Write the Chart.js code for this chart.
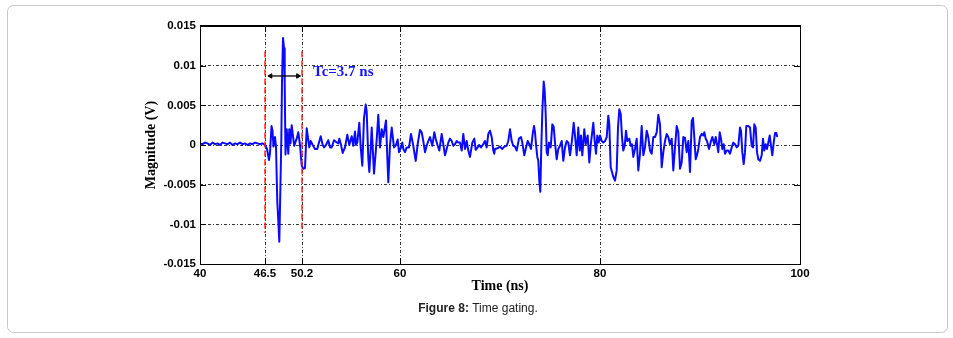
<!DOCTYPE html>
<html>
<head>
<meta charset="utf-8">
<script src="https://cdn.jsdelivr.net/npm/chart.js@4/dist/chart.umd.min.js"></script>
<style>
  html, body { margin: 0; padding: 0; background: #fff; }
  canvas { display: block; }
</style>
</head>
<body>
<canvas id="c" width="953" height="338"></canvas>
<script>
// Received signal: time (ns) and magnitude (V)
const timeNs = [
  40.0, 40.25, 40.5, 40.75, 41.0, 41.25, 41.5, 41.75, 42.0, 42.25, 42.5, 42.75, 43.0, 43.25, 43.5, 43.75,
  44.0, 44.25, 44.5, 44.75, 45.0, 45.25, 45.5, 45.75, 46.0, 46.25, 46.5,
  46.7, 46.9, 47.0, 47.15, 47.25, 47.35, 47.5, 47.6, 47.73, 47.83, 47.93, 48.03, 48.13, 48.2, 48.3, 48.4,
  48.47, 48.55, 48.67, 48.83, 48.93, 49.05, 49.17, 49.33, 49.43, 49.55, 49.67, 49.83, 50.0, 50.17, 50.33,
  50.5, 50.67, 50.93, 51.07, 51.27, 51.5, 51.73, 51.83, 52.07, 52.27, 52.4, 52.6, 52.83, 53.0, 53.17, 53.4,
  53.6, 53.83, 53.93, 54.07, 54.27, 54.5, 54.73, 54.93, 55.17, 55.33, 55.5, 55.6, 55.73, 55.93, 56.07, 56.23,
  56.4, 56.57, 56.67, 56.83, 56.93, 57.05, 57.17, 57.4, 57.67, 57.83, 58.0, 58.17, 58.33, 58.6, 58.73, 58.83,
  59.0, 59.17, 59.4, 59.6, 59.77, 59.9, 60.1, 60.23, 60.33, 60.5, 60.67, 60.9, 61.1, 61.33, 61.57, 61.77,
  62.0, 62.17, 62.33, 62.5, 62.67, 62.83, 63.0, 63.23, 63.43, 63.57, 63.77, 63.93, 64.17, 64.33, 64.5, 64.67,
  64.83, 65.0, 65.17, 65.33, 65.5, 65.67, 65.83, 66.0, 66.17, 66.33, 66.5, 66.67, 66.83, 67.0, 67.23, 67.43,
  67.57, 67.77, 67.9, 68.1, 68.33, 68.5, 68.67, 68.83, 69.0, 69.17, 69.33, 69.43, 69.5, 69.77, 70.0, 70.23,
  70.43, 70.67, 70.83, 71.0, 71.17, 71.33, 71.5, 71.67, 71.9, 72.1, 72.23, 72.43, 72.57, 72.77, 72.93, 73.1,
  73.27, 73.4, 73.5, 73.6, 73.73, 73.83, 73.93, 74.03, 74.13, 74.23, 74.37, 74.47, 74.57, 74.67, 74.77, 74.9,
  75.07, 75.23, 75.37, 75.5, 75.67, 75.83, 76.0, 76.17, 76.33, 76.5, 76.67, 76.83, 77.0, 77.17, 77.37, 77.5,
  77.67, 77.83, 77.97, 78.1, 78.23, 78.43, 78.57, 78.77, 78.93, 79.1, 79.33, 79.47, 79.6, 79.73, 79.87, 80.0,
  80.17, 80.33, 80.5, 80.67, 80.83, 80.93, 81.07, 81.2, 81.33, 81.5, 81.67, 81.8, 81.93, 82.07, 82.2, 82.33,
  82.47, 82.6, 82.73, 82.93, 83.07, 83.2, 83.33, 83.5, 83.67, 83.83, 84.0, 84.17, 84.33, 84.5, 84.67, 84.83,
  85.0, 85.17, 85.33, 85.5, 85.67, 85.83, 86.0, 86.17, 86.33, 86.5, 86.67, 86.83, 87.0, 87.17, 87.33, 87.5,
  87.67, 87.83, 88.0, 88.17, 88.33, 88.5, 88.67, 88.83, 89.0, 89.17, 89.3, 89.43, 89.57, 89.7, 89.83, 90.0,
  90.17, 90.33, 90.43, 90.57, 90.7, 90.9, 91.1, 91.23, 91.43, 91.57, 91.7, 91.83, 91.97, 92.1, 92.23, 92.37,
  92.5, 92.67, 92.83, 93.0, 93.17, 93.33, 93.5, 93.67, 93.83, 94.0, 94.1, 94.23, 94.37, 94.5, 94.63, 94.83,
  95.0, 95.17, 95.3, 95.43, 95.57, 95.7, 95.83, 96.0, 96.17, 96.3, 96.43, 96.57, 96.7, 96.83, 96.97, 97.1,
  97.23, 97.37, 97.5, 97.63, 97.73
];
const magnitudeV = [
  0.0002, 0.0001, 0.0003, 0.0002, 0.0000, 0.0003, 0.0001, 0.0002, 0.0000, 0.0003, 0.0002, 0.0001, 0.0003, 0.0000, 0.0002, 0.0001,
  0.0003, 0.0001, 0.0002, 0.0000, 0.0002, 0.0001, 0.0003, 0.0002, 0.0001, 0.0002, 0.0000,
  -0.0005, -0.0019, -0.0010, 0.0024, 0.0018, -0.0002, 0.0010, -0.0002, -0.0072, -0.0095, -0.0122, -0.0060, 0.0005, 0.0080, 0.0135, 0.0122,
  0.0078, -0.0012, 0.0020, -0.0011, 0.0020, 0.0002, 0.0025, 0.0008, -0.0001, 0.0004, 0.0008, 0.0016, 0.0000, -0.0026, -0.0030,
  -0.0029, 0.0021, -0.0003, 0.0005, 0.0000, -0.0005, -0.0005, 0.0000, 0.0011, 0.0000, -0.0003, 0.0000, 0.0006, -0.0003, -0.0003, 0.0006,
  0.0004, 0.0002, 0.0008, 0.0002, -0.0010, -0.0003, 0.0013, 0.0000, 0.0011, -0.0001, 0.0017, 0.0000, 0.0003, 0.0028, -0.0003, -0.0026,
  0.0034, 0.0051, 0.0042, -0.0016, -0.0034, -0.0010, 0.0022, -0.0036, 0.0007, 0.0038, -0.0003, 0.0020, 0.0010, 0.0031, -0.0015, -0.0047,
  0.0000, 0.0022, -0.0003, 0.0000, 0.0007, -0.0009, -0.0003, 0.0003, -0.0005, -0.0009, -0.0003, -0.0003, 0.0014, -0.0001, -0.0020, 0.0001,
  0.0019, 0.0016, 0.0005, -0.0009, -0.0001, 0.0005, 0.0010, -0.0001, 0.0016, 0.0008, -0.0001, -0.0007, 0.0014, 0.0001, -0.0013, -0.0005,
  0.0003, 0.0008, 0.0005, -0.0001, 0.0001, 0.0005, 0.0003, 0.0003, -0.0007, 0.0014, -0.0005, 0.0005, -0.0007, -0.0015, 0.0003, 0.0008,
  -0.0006, -0.0003, 0.0000, -0.0003, 0.0001, 0.0005, -0.0003, 0.0014, 0.0018, 0.0010, -0.0007, -0.0011, -0.0005, -0.0004, -0.0002, -0.0005,
  -0.0002, -0.0001, 0.0005, 0.0020, 0.0005, -0.0001, -0.0002, -0.0007, 0.0008, 0.0010, 0.0003, -0.0013, -0.0005, 0.0005, 0.0001, -0.0005,
  0.0014, 0.0024, 0.0016, 0.0001, -0.0015, -0.0020, -0.0045, -0.0059, -0.0003, 0.0041, 0.0080, 0.0068, 0.0039, -0.0009, -0.0013, 0.0003,
  -0.0003, 0.0026, 0.0023, 0.0003, -0.0018, -0.0005, -0.0001, 0.0005, -0.0020, -0.0003, 0.0005, 0.0003, -0.0013, 0.0003, 0.0028, 0.0012,
  -0.0013, 0.0022, -0.0007, 0.0012, -0.0013, 0.0020, 0.0001, 0.0012, -0.0022, 0.0003, 0.0028, 0.0005, -0.0011, 0.0012, 0.0003, 0.0012,
  0.0005, 0.0003, 0.0005, 0.0010, 0.0037, 0.0026, -0.0028, -0.0034, -0.0040, -0.0045, -0.0032, 0.0022, 0.0045, 0.0039, 0.0010, -0.0007,
  -0.0001, 0.0018, 0.0005, 0.0008, -0.0001, 0.0001, -0.0015, -0.0005, 0.0008, -0.0032, -0.0011, 0.0024, -0.0013, -0.0003, 0.0018, 0.0010,
  -0.0007, -0.0011, 0.0010, 0.0010, 0.0016, 0.0038, 0.0026, -0.0028, -0.0009, 0.0005, 0.0014, 0.0010, 0.0001, 0.0008, -0.0032, -0.0003,
  0.0024, 0.0016, -0.0030, -0.0022, 0.0010, 0.0009, -0.0009, 0.0005, -0.0034, 0.0030, 0.0034, 0.0010, -0.0018, -0.0013, -0.0005, 0.0010,
  0.0014, 0.0012, 0.0016, 0.0008, 0.0005, -0.0005, 0.0005, 0.0010, 0.0001, 0.0010, 0.0001, -0.0009, 0.0016, 0.0008, -0.0005, 0.0001,
  -0.0011, -0.0007, -0.0007, -0.0011, -0.0003, 0.0003, 0.0001, -0.0003, -0.0001, 0.0022, 0.0018, -0.0009, -0.0024, -0.0009, 0.0024, 0.0024,
  0.0022, -0.0001, -0.0003, 0.0026, 0.0022, -0.0009, -0.0018, -0.0020, -0.0013, 0.0008, -0.0007, 0.0001, -0.0005, 0.0003, 0.0012, -0.0001,
  -0.0013, 0.0003, 0.0015, 0.0015, 0.0010
];

// Axis ticks
const xTicks = [40, 46.5, 50.2, 60, 80, 100];
const xTickLabels = ['40', '46.5', '50.2', '60', '80', '100'];
const yTicks = [-0.015, -0.01, -0.005, 0, 0.005, 0.01, 0.015];
const yTickLabels = ['-0.015', '-0.01', '-0.005', '0', '0.005', '0.01', '0.015'];

// Gate markers (ns) and their vertical extent (V)
const gateTimes = [46.5, 50.2];
const gateExtent = [0.0118, -0.0111];

// Gate-width arrow and its label
const arrowTimes = [47.05, 49.8];
const arrowLevel = 0.0087;
const tcLabel = 'Tc=3.7 ns';
const tcAnchor = [51.3, 0.0092];

const captionBold = 'Figure 8:';
const captionText = ' Time gating.';

const signalPoints = timeNs.map((t, i) => ({ x: t, y: magnitudeV[i] }));

const gateSets = gateTimes.map(t => ({
  data: [{ x: t, y: gateExtent[0] }, { x: t, y: gateExtent[1] }],
  borderColor: '#ff1a1a',
  borderWidth: 1.4,
  borderDash: [6, 3],
  pointRadius: 0,
  order: 0
}));

const arrowSet = {
  data: arrowTimes.map(t => ({ x: t, y: arrowLevel })),
  borderColor: '#000',
  borderWidth: 1.3,
  pointStyle: 'triangle',
  pointRadius: 2.6,
  pointRotation: [-90, 90],
  pointBackgroundColor: '#000',
  pointBorderColor: '#000',
  pointBorderWidth: 1,
  order: 0
};

const decorations = {
  id: 'decorations',
  beforeDraw(chart) {
    const ctx = chart.ctx;
    ctx.save();
    ctx.fillStyle = '#fff';
    ctx.fillRect(0, 0, chart.width, chart.height);
    // rounded outer frame
    ctx.strokeStyle = '#c8c8c8';
    ctx.lineWidth = 1;
    ctx.beginPath();
    ctx.roundRect(7.5, 5.5, 940, 327, 6);
    ctx.stroke();
    ctx.restore();
  },
  afterDraw(chart) {
    const ctx = chart.ctx;
    const a = chart.chartArea;
    const xs = chart.scales.x, ys = chart.scales.y;
    ctx.save();
    // axes box
    ctx.strokeStyle = '#000';
    ctx.lineWidth = 1;
    ctx.strokeRect(Math.round(a.left) + 0.5, Math.round(a.top) + 0.5,
      Math.round(a.right - a.left), Math.round(a.bottom - a.top));
    ctx.lineWidth = 2;
    ctx.beginPath();
    ctx.moveTo(a.left, Math.round(a.top));
    ctx.lineTo(a.right + 1, Math.round(a.top));
    ctx.stroke();
    // inward tick marks
    ctx.lineWidth = 1;
    ctx.beginPath();
    const tl = 6;
    xTicks.forEach(v => {
      const px = Math.round(xs.getPixelForValue(v)) + 0.5;
      ctx.moveTo(px, a.bottom); ctx.lineTo(px, a.bottom - tl);
      ctx.moveTo(px, a.top); ctx.lineTo(px, a.top + tl);
    });
    yTicks.forEach(v => {
      const py = Math.round(ys.getPixelForValue(v)) + 0.5;
      ctx.moveTo(a.left, py); ctx.lineTo(a.left + tl, py);
      ctx.moveTo(a.right, py); ctx.lineTo(a.right - tl, py);
    });
    ctx.stroke();
    // gate-width label
    ctx.fillStyle = '#1414ff';
    ctx.font = 'bold 15px "Liberation Serif"';
    ctx.textAlign = 'left';
    ctx.textBaseline = 'middle';
    ctx.fillText(tcLabel, xs.getPixelForValue(tcAnchor[0]), ys.getPixelForValue(tcAnchor[1]));
    // caption
    ctx.fillStyle = '#222';
    ctx.textBaseline = 'middle';
    ctx.font = 'bold 12px "Liberation Sans"';
    const wb = ctx.measureText(captionBold).width;
    ctx.font = '12px "Liberation Sans"';
    const wn = ctx.measureText(captionText).width;
    const cx = 478 - (wb + wn) / 2, cy = 309;
    ctx.font = 'bold 12px "Liberation Sans"';
    ctx.fillText(captionBold, cx, cy);
    ctx.font = '12px "Liberation Sans"';
    ctx.fillText(captionText, cx + wb, cy);
    ctx.restore();
  }
};

const gridColor = '#3a3a3a';

new Chart(document.getElementById('c'), {
  type: 'line',
  data: {
    datasets: [
      {
        data: signalPoints,
        borderColor: '#0a0aff',
        borderWidth: 2,
        borderJoinStyle: 'round',
        pointRadius: 0,
        tension: 0,
        order: 1
      },
      ...gateSets,
      arrowSet
    ]
  },
  options: {
    responsive: false,
    animation: false,
    devicePixelRatio: 1,
    layout: { padding: { left: 140, right: 153, top: 26, bottom: 0 } },
    plugins: { legend: { display: false }, tooltip: { enabled: false } },
    scales: {
      x: {
        type: 'linear',
        min: 40,
        max: 100,
        afterBuildTicks: s => { s.ticks = xTicks.map(v => ({ value: v })); },
        afterFit: s => { s.height = 74; },
        ticks: {
          autoSkip: false,
          maxRotation: 0,
          padding: 3,
          color: '#000',
          font: { family: 'Liberation Sans', weight: 'bold', size: 11.5 },
          callback: (v, i) => xTickLabels[i]
        },
        grid: { color: gridColor, lineWidth: 1, drawTicks: false },
        border: { display: false, dash: [3, 2, 1, 2] },
        title: {
          display: true,
          text: 'Time (ns)',
          color: '#000',
          font: { family: 'Liberation Serif', weight: 'bold', size: 14 },
          padding: { top: 0, bottom: 43 }
        }
      },
      y: {
        type: 'linear',
        min: -0.015,
        max: 0.015,
        afterBuildTicks: s => { s.ticks = yTicks.map(v => ({ value: v })); },
        afterFit: s => { s.width = 60; },
        ticks: {
          autoSkip: false,
          padding: 4,
          color: '#000',
          font: { family: 'Liberation Sans', weight: 'bold', size: 11.5 },
          callback: (v, i) => yTickLabels[i]
        },
        grid: { color: gridColor, lineWidth: 1, drawTicks: false },
        border: { display: false, dash: [3, 2, 1, 2] },
        title: {
          display: true,
          text: 'Magnitude (V)',
          color: '#000',
          font: { family: 'Liberation Serif', weight: 'bold', size: 14 },
          padding: { top: 3.3, bottom: 0 }
        }
      }
    }
  },
  plugins: [decorations]
});
</script>
</body>
</html>
